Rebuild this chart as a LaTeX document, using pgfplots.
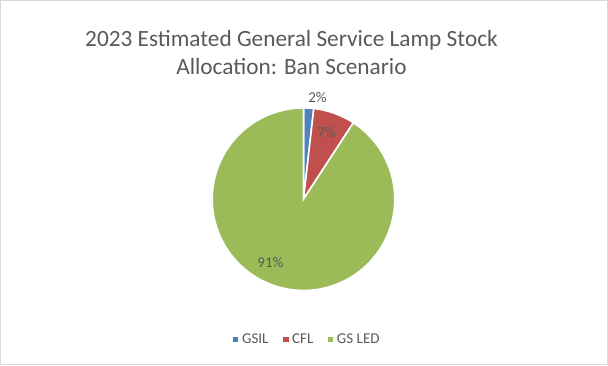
\documentclass[border=0pt]{standalone}
\usepackage{pgfplots}
\pgfplotsset{compat=1.18}
\usepackage{fontspec}
\setmainfont{Carlito}
\definecolor{cgsil}{HTML}{4F81BD}
\definecolor{ccfl}{HTML}{C0504D}
\definecolor{cled}{HTML}{9BBB59}
\definecolor{ctext}{HTML}{595959}
\definecolor{cframe}{HTML}{D9D9D9}
% shares (percent)
\def\vGSIL{1.8}
\def\vCFL{7.4}
\def\vLED{90.8}
\pgfmathsetmacro{\aA}{90}
\pgfmathsetmacro{\aB}{\aA-3.6*\vGSIL}
\pgfmathsetmacro{\aC}{\aB-3.6*\vCFL}
\pgfmathsetmacro{\aD}{\aC-3.6*\vLED}
\begin{document}
\begin{tikzpicture}
\begin{axis}[
  scale only axis, width=608bp, height=365bp,
  xmin=0, xmax=608, ymin=0, ymax=365,
  hide axis, clip=false,
  legend style={draw=none, fill=none, at={(axis cs:306,26)}, anchor=center,
    legend columns=3, font=\fontsize{15}{17}\selectfont, text=ctext,
    /tikz/every even column/.append style={column sep=11bp}},
  legend image code/.code={\fill[#1] (0bp,-3.5bp) rectangle (7bp,3.5bp);},
]
\draw[cframe, line width=1.2bp] (axis cs:1,1) rectangle (axis cs:606,364);
\addplot[fill=cgsil, draw=white, line width=1.6bp, domain=\aA:\aB, samples=10, variable=\t]
  ({303+91*cos(\t)},{166+91*sin(\t)}) -- (axis cs:303,166) -- cycle;
\addlegendentry{GSIL}
\addplot[fill=ccfl, draw=white, line width=1.6bp, domain=\aB:\aC, samples=30, variable=\t]
  ({303+91*cos(\t)},{166+91*sin(\t)}) -- (axis cs:303,166) -- cycle;
\addlegendentry{CFL}
\addplot[fill=cled, draw=white, line width=1.6bp, domain=\aC:\aD, samples=200, variable=\t]
  ({303+91*cos(\t)},{166+91*sin(\t)}) -- (axis cs:303,166) -- cycle;
\addlegendentry{GS LED}
\node[text=ctext, font=\fontsize{23.3}{27}\selectfont, anchor=base] at (axis cs:291,318) {2023 Estimated General Service Lamp Stock};
\node[text=ctext, font=\fontsize{23.3}{27}\selectfont, anchor=base] at (axis cs:291,290) {Allocation: Ban Scenario};
\node[text=ctext, font=\fontsize{15}{17}\selectfont] at (axis cs:317,267) {2\%};
\node[text=ctext, font=\fontsize{15}{17}\selectfont] at (axis cs:326,233) {7\%};
\node[text=ctext, font=\fontsize{15}{17}\selectfont] at (axis cs:270,103) {91\%};
\end{axis}
\end{tikzpicture}
\end{document}
